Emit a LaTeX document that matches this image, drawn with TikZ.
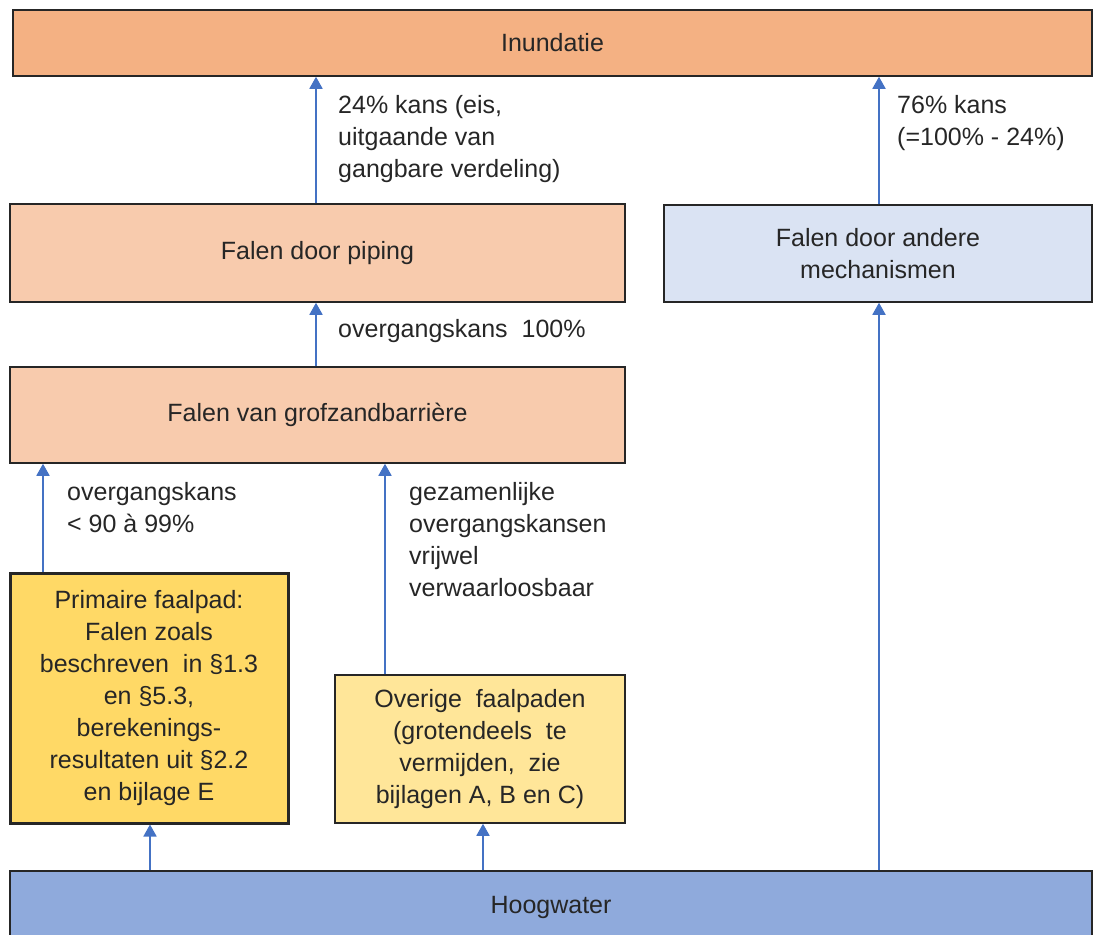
\documentclass[tikz,border=0pt]{standalone}
\usepackage{fontspec}
\setmainfont{Liberation Sans}
\usetikzlibrary{arrows.meta}
\definecolor{inundc}{HTML}{F4B183}
\definecolor{pipc}{HTML}{F8CBAD}
\definecolor{andc}{HTML}{DAE3F3}
\definecolor{primc}{HTML}{FFD966}
\definecolor{overc}{HTML}{FFE699}
\definecolor{hoogc}{HTML}{8FAADC}
\definecolor{arrc}{HTML}{4472C4}
\definecolor{txtc}{HTML}{262626}
\begin{document}
\begin{tikzpicture}[x=1pt,y=-1pt,
  font=\fontsize{25}{32}\selectfont,
  box/.style={draw=txtc, line width=1.5pt, rectangle, inner sep=0pt, align=center, text=txtc},
  arr/.style={draw=arrc, line width=1.8pt, -{Triangle[width=13pt,length=12pt]}},
  lab/.style={anchor=west, align=left, inner sep=0pt, text=txtc}]
\useasboundingbox (0,0) rectangle (1096,935);
\clip (0,0) rectangle (1096,935);

\node[box, fill=inundc, minimum width=1079pt, minimum height=66pt] (inund) at (552.5,43) {Inundatie};
\node[box, fill=pipc, minimum width=615pt, minimum height=98pt] (piping) at (317.5,253) {Falen door piping};
\node[box, fill=andc, minimum width=428pt, minimum height=97pt] (andere) at (878,253.5) {Falen door andere\\mechanismen};
\node[box, fill=pipc, minimum width=615pt, minimum height=96pt] (grof) at (317.5,415) {Falen van grofzandbarrière};
\node[box, fill=primc, line width=3pt, minimum width=278pt, minimum height=250pt] (prim) at (149,698)
  {Primaire faalpad:\\Falen zoals\\beschreven~ in §1.3\\en §5.3,\\berekenings-\\resultaten uit §2.2\\en bijlage E};
\node[box, fill=overc, minimum width=290pt, minimum height=148pt] (over) at (480,749)
  {Overige~ faalpaden\\(grotendeels~ te\\vermijden,~ zie\\bijlagen A, B en C)};
\node[box, fill=hoogc, minimum width=1082pt, minimum height=72pt] (hoog) at (551,907) {Hoogwater};

\coordinate (xa) at (316,0);
\coordinate (xb) at (879,0);
\coordinate (xc) at (43,0);
\coordinate (xd) at (385,0);
\coordinate (xe) at (150,0);
\coordinate (xf) at (483,0);

\draw[arr] (xa |- piping.north) -- (xa |- inund.south);
\draw[arr] (xb |- andere.north) -- (xb |- inund.south);
\draw[arr] (xa |- grof.north) -- (xa |- piping.south);
\draw[arr] (xc |- prim.north) -- (xc |- grof.south);
\draw[arr] (xd |- over.north) -- (xd |- grof.south);
\draw[arr] (xe |- hoog.north) -- (xe |- prim.south);
\draw[arr] (xf |- hoog.north) -- (xf |- over.south);
\draw[arr] (xb |- hoog.north) -- (xb |- andere.south);

\node[lab] (l1) at (338,139) {24\% kans (eis,\\uitgaande van\\gangbare verdeling)};
\node[lab] (l2) at (897,123) {76\% kans\\(=100\% - 24\%)};
\node[lab] (l3) at (338,331) {overgangskans~ 100\%};
\node[lab] (l4) at (67,508) {overgangskans\\< 90 à 99\%};
\node[lab] (l5) at (409,540) {gezamenlijke\\overgangskansen\\vrijwel\\verwaarloosbaar};
\end{tikzpicture}
\end{document}
